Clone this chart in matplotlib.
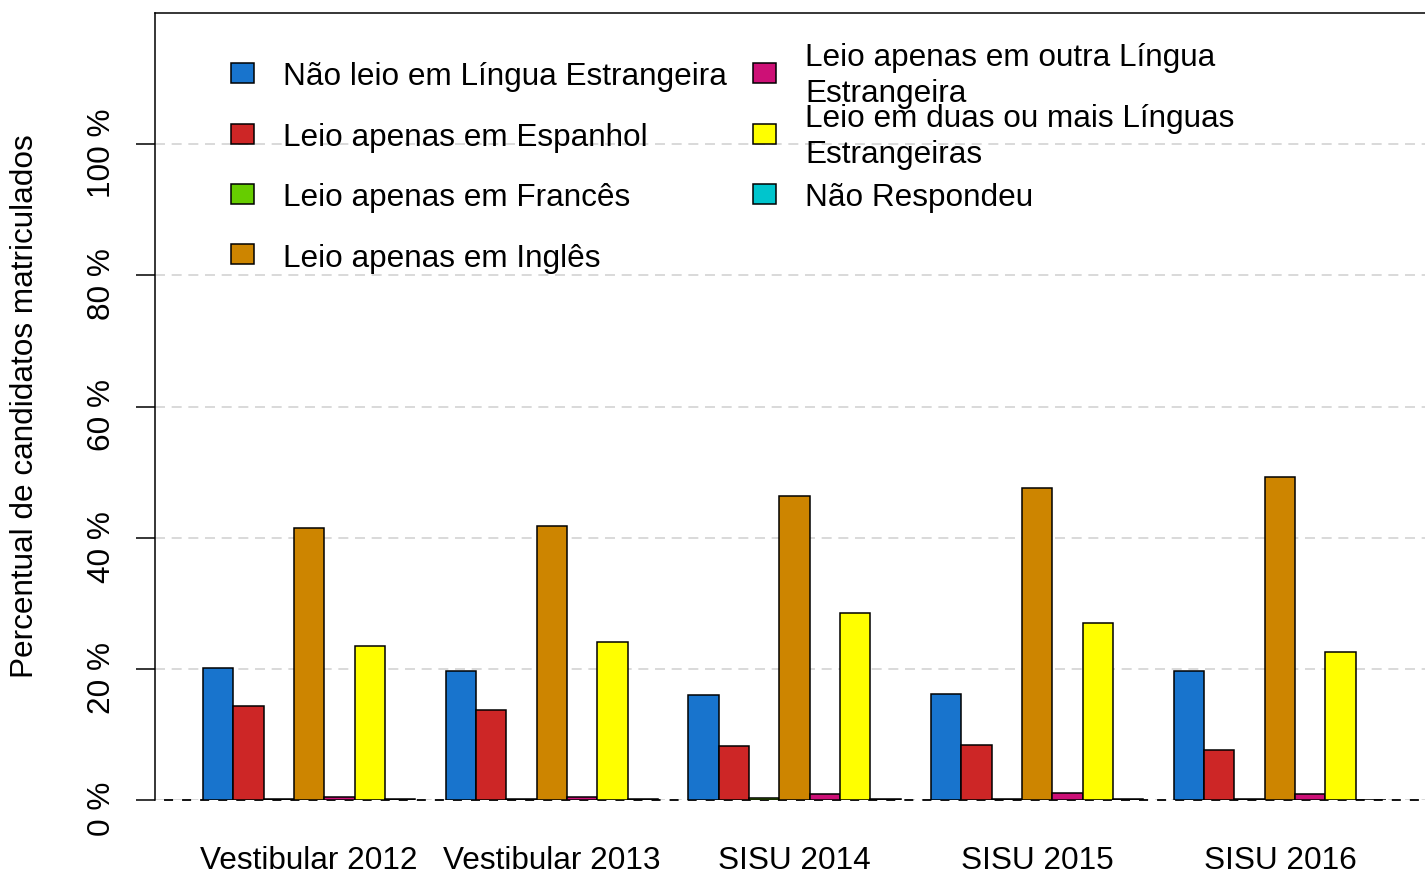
import numpy as np
import matplotlib
matplotlib.use('Agg')
import matplotlib.pyplot as plt
from matplotlib.patches import Rectangle
from matplotlib.transforms import ScaledTranslation

plt.rcParams['font.family'] = ['Liberation Sans', 'DejaVu Sans']

W, H = 1425, 870
FS = 22.7

groups = ['Vestibular 2012', 'Vestibular 2013', 'SISU 2014', 'SISU 2015', 'SISU 2016']
categories = [
    'Não leio em Língua Estrangeira',
    'Leio apenas em Espanhol',
    'Leio apenas em Francês',
    'Leio apenas em Inglês',
    'Leio apenas em outra Língua\nEstrangeira',
    'Leio em duas ou mais Línguas\nEstrangeiras',
    'Não Respondeu',
]
colors = ['#1874CD', '#CD2626', '#66CD00', '#CD8500', '#CD1076', '#FFFF00', '#00C5CD']

# percent of enrolled candidates, one list per category (values by group)
nao_leio = [20.2, 19.7, 16.0, 16.2, 19.7]
espanhol = [14.3, 13.7, 8.2, 8.4, 7.7]
frances = [0.15, 0.15, 0.3, 0.2, 0.1]
ingles = [41.4, 41.8, 46.3, 47.5, 49.2]
outra = [0.4, 0.4, 0.9, 1.0, 0.9]
duas_mais = [23.5, 24.1, 28.5, 27.0, 22.6]
nao_respondeu = [0.1, 0.1, 0.1, 0.1, 0.05]
series = [nao_leio, espanhol, frances, ingles, outra, duas_mais, nao_respondeu]

yticks = [0, 20, 40, 60, 80, 100]
ytick_labels = ['0 %', '20 %', '40 %', '60 %', '80 %', '100 %']


def fx(px):
    return px / W


def fy(py):
    return 1 - py / H


fig = plt.figure(figsize=(W / 100, H / 100), dpi=100)
ax = fig.add_axes([fx(155), fy(801), fx(1425) - fx(155), fy(14) - fy(801)])

n_cat = len(categories)
group_start = 1 + np.arange(len(groups)) * (n_cat + 1)
for i, (vals, color) in enumerate(zip(series, colors)):
    ax.bar(group_start + i, vals, width=1, align='edge', color=color,
           edgecolor='black', linewidth=1.1, zorder=3)

ax.set_xlim(-0.58, 41.28)
ax.set_ylim(0, 120)

# grid + zero line
for t in yticks:
    ax.axhline(t, color='#D3D3D3', linestyle=(0, (6, 4)), linewidth=1.2, zorder=1)
ax.axhline(0, color='black', linestyle=(5, (5, 5)), linewidth=1.3, zorder=2, clip_on=False)

ax.set_xticks(group_start + n_cat / 2)
ax.set_xticklabels(groups)
ax.tick_params(axis='x', length=0, pad=32.5, labelsize=FS)

ax.set_yticks(yticks)
ax.set_yticklabels(ytick_labels)
ax.tick_params(axis='y', length=13.7, width=1.1, pad=14, labelsize=FS, labelrotation=90)
offset = ScaledTranslation(0, -8 / 100, fig.dpi_scale_trans)
for lab in ax.get_yticklabels():
    lab.set_va('center')
    lab.set_transform(lab.get_transform() + offset)

for side in ['right', 'bottom']:
    ax.spines[side].set_visible(False)
for side in ['left', 'top']:
    ax.spines[side].set_linewidth(1.1)

fig.text(fx(25), fy(406), 'Percentual de candidatos matriculados', rotation=90,
         ha='center', va='center', fontsize=FS)

# legend, two columns, no frame (R style)
row_y = [74, 134.5, 194.5, 255]
col_cfg = [(231, 283), (753, 805)]
layout = [(0, 0), (0, 1), (0, 2), (0, 3), (1, 0), (1, 1), (1, 2)]
for (col, row), label, color in zip(layout, categories, colors):
    sx, tx = col_cfg[col]
    cy = row_y[row]
    fig.patches.append(Rectangle((fx(sx), fy(cy + 10)), fx(23.5), fy(0) - fy(19.7),
                                 transform=fig.transFigure, facecolor=color,
                                 edgecolor='black', linewidth=1.1))
    lines = label.split('\n')
    if len(lines) == 1:
        fig.text(fx(tx), fy(cy + 11.5), lines[0], fontsize=FS, va='baseline', ha='left')
    else:
        fig.text(fx(tx), fy(cy - 8), lines[0], fontsize=FS, va='baseline', ha='left')
        fig.text(fx(tx), fy(cy + 28), lines[1], fontsize=FS, va='baseline', ha='left')

fig.savefig('out.png', dpi=100)
